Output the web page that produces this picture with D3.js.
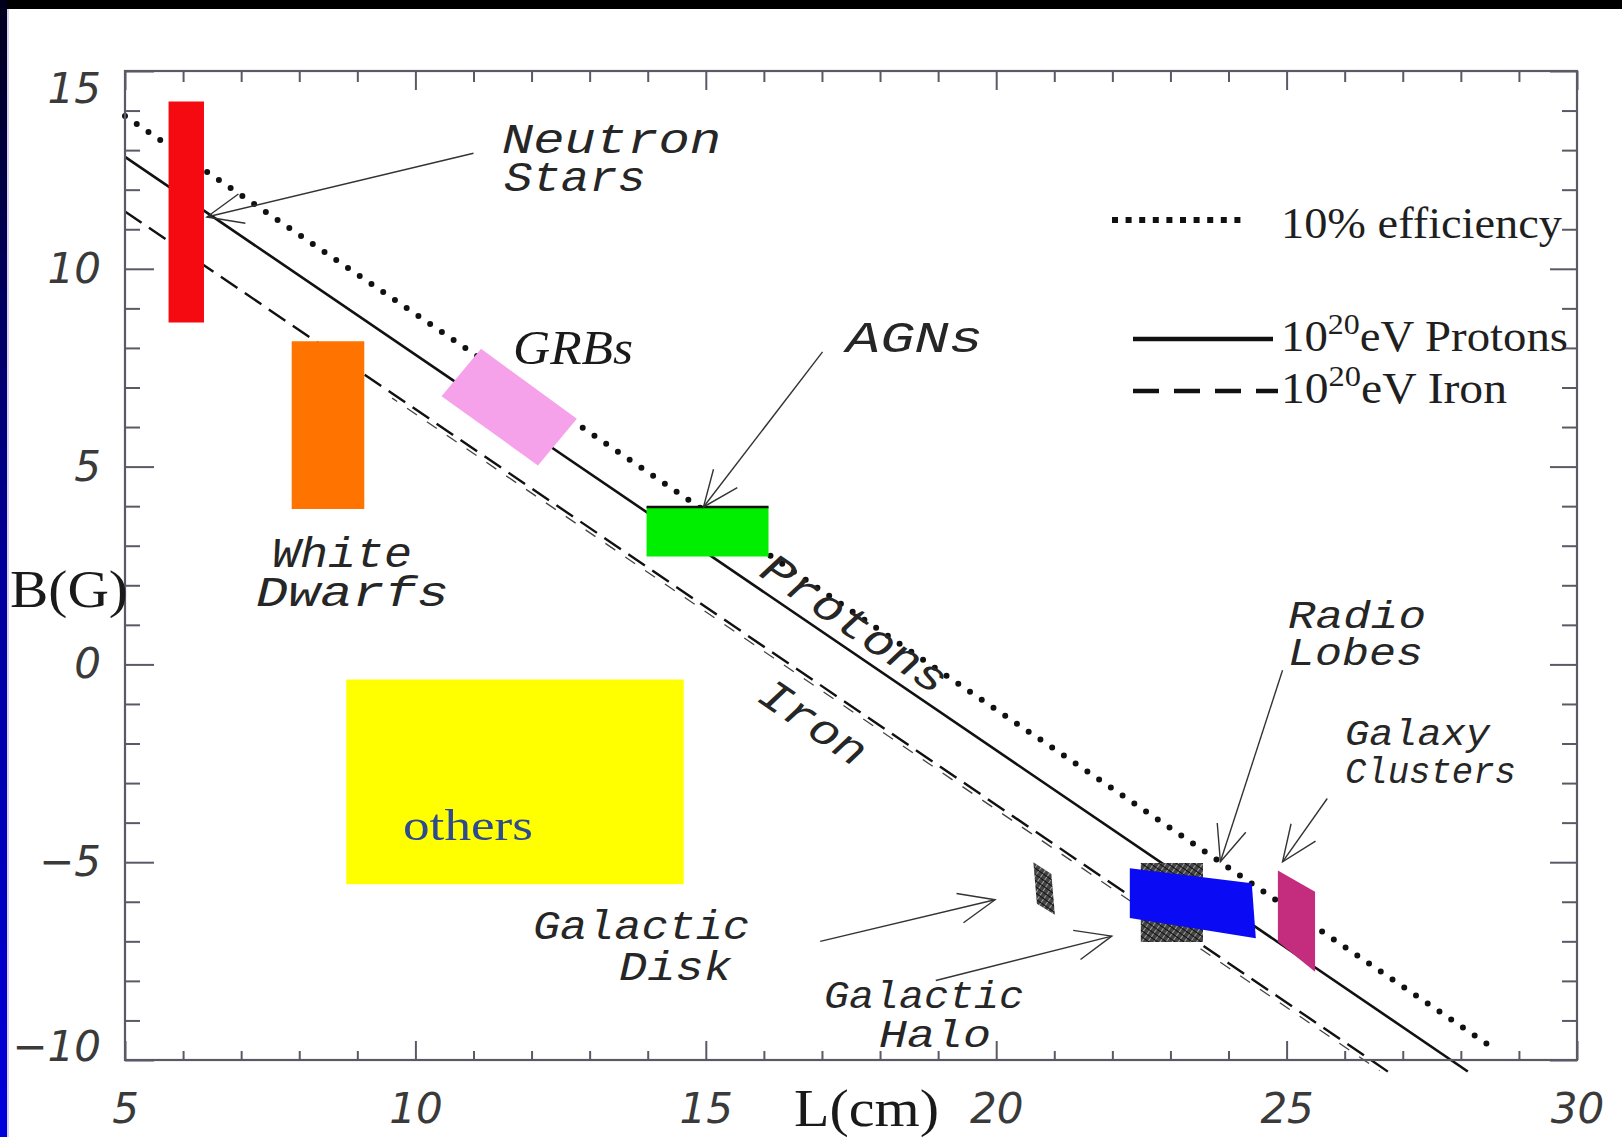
<!DOCTYPE html>
<html><head><meta charset="utf-8">
<script src="https://cdn.jsdelivr.net/npm/d3@7"></script>
<style>html,body{margin:0;padding:0;background:#fff;overflow:hidden}</style>
</head><body>
<svg id="chart" width="1622" height="1137" xmlns="http://www.w3.org/2000/svg"></svg>
<script>
// Hillas diagram: log B [G] against log L [cm]

// axis ticks
const xMajor = [5, 10, 15, 20, 25, 30];
const yMajor = [-10, -5, 0, 5, 10, 15];
const xMinor = d3.range(5, 31).filter(v => v % 5 !== 0);
const yMinor = d3.range(-10, 16).filter(v => v % 5 !== 0);

// maximum-energy lines: log B = intercept - log L
const lineNames = ["10% efficiency", "10²⁰eV Protons", "10²⁰eV Iron"];
const lineIntercepts = [18.86, 17.83, 16.45];
const lineFrom = [5, 5, 5];
const lineTo = [28.6, 28.12, 26.8];
// faint second trace running beside the iron line
const ironEchoIntercept = 16.33;
const ironEchoFrom = 9.6;
const ironEchoTo = 26.6;

// source regions, vertices as [log L, log B]
const neutronStars = [[5.75, 14.23], [6.36, 14.23], [6.36, 8.64], [5.75, 8.64]];
const whiteDwarfs = [[7.87, 8.17], [9.12, 8.17], [9.12, 3.93], [7.87, 3.93]];
const grbs = [[10.45, 6.78], [11.13, 7.98], [12.78, 6.21], [12.11, 5.03]];
const agns = [[13.98, 3.98], [16.08, 3.98], [16.08, 2.73], [13.98, 2.73]];
const others = [[8.81, -0.38], [14.62, -0.38], [14.62, -5.56], [8.81, -5.56]];
const galacticDisk = [[20.64, -5.0], [20.95, -5.3], [21.01, -6.33], [20.7, -6.05]];
const galacticHalo = [[22.49, -5.02], [23.56, -5.02], [23.56, -7.02], [22.49, -7.02]];
const radioLobes = [[22.3, -5.15], [24.4, -5.53], [24.47, -6.92], [22.3, -6.41]];
const galaxyClusters = [[24.85, -5.21], [25.49, -5.75], [25.49, -7.77], [24.85, -7.01]];

// pointers from a label to its region: [from, to] in [log L, log B]
const pointerNeutron = [[11.0, 12.92], [6.41, 11.31]];
const pointerAGN = [[17.01, 7.9], [14.96, 3.98]];
const pointerDisk = [[16.97, -7.0], [19.98, -5.95]];
const pointerHalo = [[18.96, -7.99], [21.99, -6.87]];
const pointerLobes = [[24.93, -0.15], [23.86, -4.99]];
const pointerClusters = [[25.7, -3.39], [24.93, -4.99]];

const W = 1622, H = 1137;
const svg = d3.select("#chart");
const x = d3.scaleLinear().domain([5, 30]).range([125, 1577]);
const y = d3.scaleLinear().domain([-10, 15]).range([1060, 71]);

const defs = svg.append("defs");
const grad = defs.append("linearGradient").attr("id", "edge").attr("x1", 0).attr("y1", 0).attr("x2", 0).attr("y2", 1);
grad.append("stop").attr("offset", 0).attr("stop-color", "#00001c");
grad.append("stop").attr("offset", 0.5).attr("stop-color", "#00009a");
grad.append("stop").attr("offset", 1).attr("stop-color", "#0000dc");

const hatch = defs.append("pattern").attr("id", "hatch").attr("width", 5).attr("height", 5)
  .attr("patternUnits", "userSpaceOnUse").attr("patternTransform", "rotate(35)");
hatch.append("rect").attr("width", 5).attr("height", 5).attr("fill", "#444");
hatch.append("line").attr("x1", 0).attr("y1", 0).attr("x2", 0).attr("y2", 5).attr("stroke", "#d4d4d4").attr("stroke-width", 1.3);
hatch.append("line").attr("x1", 0).attr("y1", 2.5).attr("x2", 5).attr("y2", 2.5).attr("stroke", "#111").attr("stroke-width", 1);

defs.append("marker").attr("id", "vee").attr("markerUnits", "userSpaceOnUse")
  .attr("viewBox", "-40 -20 44 40").attr("markerWidth", 44).attr("markerHeight", 40)
  .attr("refX", 0).attr("refY", 0).attr("orient", "auto")
  .append("path").attr("d", "M-36,-15 L0,0 L-36,15").attr("fill", "none")
  .attr("stroke", "#333").attr("stroke-width", 1.4);

// page frame
svg.append("rect").attr("width", W).attr("height", H).attr("fill", "#fff");
svg.append("rect").attr("width", W).attr("height", 9).attr("fill", "#000");
svg.append("rect").attr("width", 7).attr("height", H).attr("fill", "url(#edge)");
svg.append("rect").attr("x", 7).attr("y", 9).attr("width", 2).attr("height", H).attr("fill", "#d8d4f0");

// ---- lines ----
const lineGen = d3.line().x(d => x(d[0])).y(d => y(d[1]));
const lineStyles = [
  {width: 6, dash: "0 14.2", cap: "round"},
  {width: 2.6, dash: null, cap: "butt"},
  {width: 2.4, dash: "20 9", cap: "butt"}
];
const gLines = svg.append("g");
lineIntercepts.forEach((c, i) => {
  const pts = [[lineFrom[i], c - lineFrom[i]], [lineTo[i], c - lineTo[i]]];
  gLines.append("path").attr("d", lineGen(pts)).attr("fill", "none")
    .attr("stroke", "#111").attr("stroke-width", lineStyles[i].width)
    .attr("stroke-linecap", lineStyles[i].cap)
    .attr("stroke-dasharray", lineStyles[i].dash);
});
gLines.append("path")
  .attr("d", lineGen([[ironEchoFrom, ironEchoIntercept - ironEchoFrom], [ironEchoTo, ironEchoIntercept - ironEchoTo]]))
  .attr("fill", "none").attr("stroke", "#444").attr("stroke-width", 1.3)
  .attr("stroke-dasharray", "12 12").attr("stroke-dashoffset", 6);

// ---- source regions ----
const poly = pts => "M" + pts.map(p => x(p[0]) + "," + y(p[1])).join("L") + "Z";
const regions = [
  [neutronStars, "#f50a12"],
  [whiteDwarfs, "#ff7300"],
  [grbs, "#f6a2eb"],
  [agns, "#00ee00"],
  [others, "#ffff00"],
  [galacticDisk, "url(#hatch)"],
  [galacticHalo, "url(#hatch)"],
  [radioLobes, "#0a0af5"],
  [galaxyClusters, "#c42d7d"]
];
const gReg = svg.append("g");
regions.forEach(([pts, fill]) => gReg.append("path").attr("d", poly(pts)).attr("fill", fill));
// dark rim on the top edge of the AGN box
gReg.append("line").attr("x1", x(agns[0][0])).attr("x2", x(agns[1][0]))
  .attr("y1", y(agns[0][1])).attr("y2", y(agns[0][1])).attr("stroke", "#111").attr("stroke-width", 2.5);

// ---- pointers ----
const gPtr = svg.append("g");
[pointerNeutron, pointerAGN, pointerDisk, pointerHalo, pointerLobes, pointerClusters].forEach(p => {
  gPtr.append("line").attr("x1", x(p[0][0])).attr("y1", y(p[0][1]))
    .attr("x2", x(p[1][0])).attr("y2", y(p[1][1]))
    .attr("stroke", "#333").attr("stroke-width", 1.4).attr("marker-end", "url(#vee)");
});

// ---- axes ----
const axisColor = "#5d5866";
function styleAxis(g) {
  g.select(".domain").remove();
  g.selectAll(".tick line").attr("stroke", axisColor).attr("stroke-width", 2);
}
const tickFont = "'DejaVu Sans', sans-serif";
const gx = svg.append("g").attr("transform", `translate(0,${y(-10)})`)
  .call(d3.axisBottom(x).tickValues(xMajor).tickSizeInner(-19).tickSizeOuter(0).tickPadding(33).tickFormat(d3.format("d")));
gx.call(styleAxis);
svg.append("g").attr("transform", `translate(0,${y(-10)})`)
  .call(d3.axisBottom(x).tickValues(xMinor).tickSizeInner(-9).tickSizeOuter(0).tickFormat("")).call(styleAxis);
svg.append("g").attr("transform", `translate(0,${y(15)})`)
  .call(d3.axisTop(x).tickValues(xMajor).tickSizeInner(-19).tickSizeOuter(0).tickFormat("")).call(styleAxis);
svg.append("g").attr("transform", `translate(0,${y(15)})`)
  .call(d3.axisTop(x).tickValues(xMinor).tickSizeInner(-11).tickSizeOuter(0).tickFormat("")).call(styleAxis);

const gy = svg.append("g").attr("transform", `translate(${x(5)},0)`)
  .call(d3.axisLeft(y).tickValues(yMajor).tickSizeInner(-29).tickSizeOuter(0).tickPadding(24).tickFormat(d3.format("d")));
gy.call(styleAxis);
svg.append("g").attr("transform", `translate(${x(5)},0)`)
  .call(d3.axisLeft(y).tickValues(yMinor).tickSizeInner(-15).tickSizeOuter(0).tickFormat("")).call(styleAxis);
svg.append("g").attr("transform", `translate(${x(30)},0)`)
  .call(d3.axisRight(y).tickValues(yMajor).tickSizeInner(-27).tickSizeOuter(0).tickFormat("")).call(styleAxis);
svg.append("g").attr("transform", `translate(${x(30)},0)`)
  .call(d3.axisRight(y).tickValues(yMinor).tickSizeInner(-15).tickSizeOuter(0).tickFormat("")).call(styleAxis);

[gx, gy].forEach(g => g.selectAll(".tick text")
  .attr("font-family", tickFont).attr("font-size", 42).attr("font-style", "italic")
  .attr("font-weight", 200).attr("fill", "#3a3a3a"));
gy.selectAll(".tick text").filter(d => d === 15).attr("dy", "0.75em");
gy.selectAll(".tick text").filter(d => d === -10).attr("dy", "0.02em");

// plot frame
svg.append("rect").attr("x", x(5)).attr("y", y(15)).attr("width", x(30) - x(5)).attr("height", y(-10) - y(15))
  .attr("fill", "none").attr("stroke", axisColor).attr("stroke-width", 2.2);

// ---- axis titles ----
const serif = "'Liberation Serif', 'Times New Roman', serif";
svg.append("text").attr("x", 10).attr("y", 607).attr("font-family", serif).attr("font-size", 52)
  .attr("fill", "#1a1a1a").attr("textLength", 118).attr("lengthAdjust", "spacingAndGlyphs").text("B(G)");
svg.append("text").attr("x", 794).attr("y", 1126).attr("font-family", serif).attr("font-size", 52)
  .attr("fill", "#1a1a1a").attr("textLength", 145).attr("lengthAdjust", "spacingAndGlyphs").text("L(cm)");

// ---- region labels (one text element per label, one tspan per line) ----
const hershey = "'Liberation Mono', 'DejaVu Sans Mono', monospace";
const gLab = svg.append("g").attr("font-family", hershey).attr("font-style", "italic")
  .attr("fill", "#262626").attr("font-size", 42);
function label(lines, size) {
  const t = gLab.append("text").attr("font-size", size);
  lines.forEach(([txt, px, py, len]) => {
    t.append("tspan").attr("x", px).attr("y", py)
      .attr("textLength", len).attr("lengthAdjust", "spacingAndGlyphs").text(txt);
  });
  return t;
}
label([["Neutron", 502, 153, 219], ["Stars", 504, 191, 142]], 42);
label([["White", 272, 567, 140], ["Dwarfs", 256, 606, 193]], 42);
label([["AGNs", 846, 352, 137]], 44);
label([["Radio", 1288, 628, 138], ["Lobes", 1288, 665, 135]], 39);
label([["Galaxy", 1345, 745, 145], ["Clusters", 1345, 783, 171]], 37);
label([["Galactic", 533, 939, 217], ["Disk", 619, 980, 113]], 41);
label([["Galactic", 824, 1008, 200], ["Halo", 879, 1047, 112]], 39);

const slopeDeg = Math.atan2(y(0) - y(1), x(1) - x(0)) * 180 / Math.PI;
[["Protons", 17.54, 0.98, 215], ["Iron", 16.83, -1.51, 120]].forEach(([txt, l, b, len]) => {
  gLab.append("text").attr("transform", `translate(${x(l)},${y(b)}) rotate(${slopeDeg})`)
    .attr("font-size", 44).attr("text-anchor", "middle").attr("dominant-baseline", "central")
    .attr("textLength", len).attr("lengthAdjust", "spacingAndGlyphs").text(txt);
});

svg.append("text").attr("x", 513).attr("y", 364).attr("font-family", serif).attr("font-style", "italic")
  .attr("font-size", 48).attr("fill", "#1a1a1a").attr("textLength", 120).attr("lengthAdjust", "spacingAndGlyphs").text("GRBs");
svg.append("text").attr("x", 403).attr("y", 840).attr("font-family", serif)
  .attr("font-size", 44).attr("fill", "#2d4b8e").attr("textLength", 130).attr("lengthAdjust", "spacingAndGlyphs").text("others");

// ---- legend ----
const legY = [220, 339, 391];
const legTextY = [238, 351, 403];
const gLeg = svg.append("g");
gLeg.append("line").attr("x1", 1112).attr("x2", 1248).attr("y1", legY[0]).attr("y2", legY[0])
  .attr("stroke", "#111").attr("stroke-width", 6).attr("stroke-dasharray", "6 7.6");
gLeg.append("line").attr("x1", 1133).attr("x2", 1273).attr("y1", legY[1]).attr("y2", legY[1])
  .attr("stroke", "#111").attr("stroke-width", 4.5);
gLeg.append("line").attr("x1", 1133).attr("x2", 1278).attr("y1", legY[2]).attr("y2", legY[2])
  .attr("stroke", "#111").attr("stroke-width", 4.5).attr("stroke-dasharray", "26 15");
const legLens = [281, 287, 226];
lineNames.forEach((name, i) => {
  const t = gLeg.append("text").attr("x", 1281).attr("y", legTextY[i]).attr("font-family", serif)
    .attr("font-size", 44).attr("fill", "#1f1f1f")
    .attr("textLength", legLens[i]).attr("lengthAdjust", "spacingAndGlyphs");
  const m = name.match(/^10²⁰(.*)$/);
  if (m) {
    t.append("tspan").text("10");
    t.append("tspan").attr("font-size", 30).attr("dy", -17).text("20");
    t.append("tspan").attr("dy", 17).text(m[1]);
  } else {
    t.text(name);
  }
});
</script>
</body></html>
